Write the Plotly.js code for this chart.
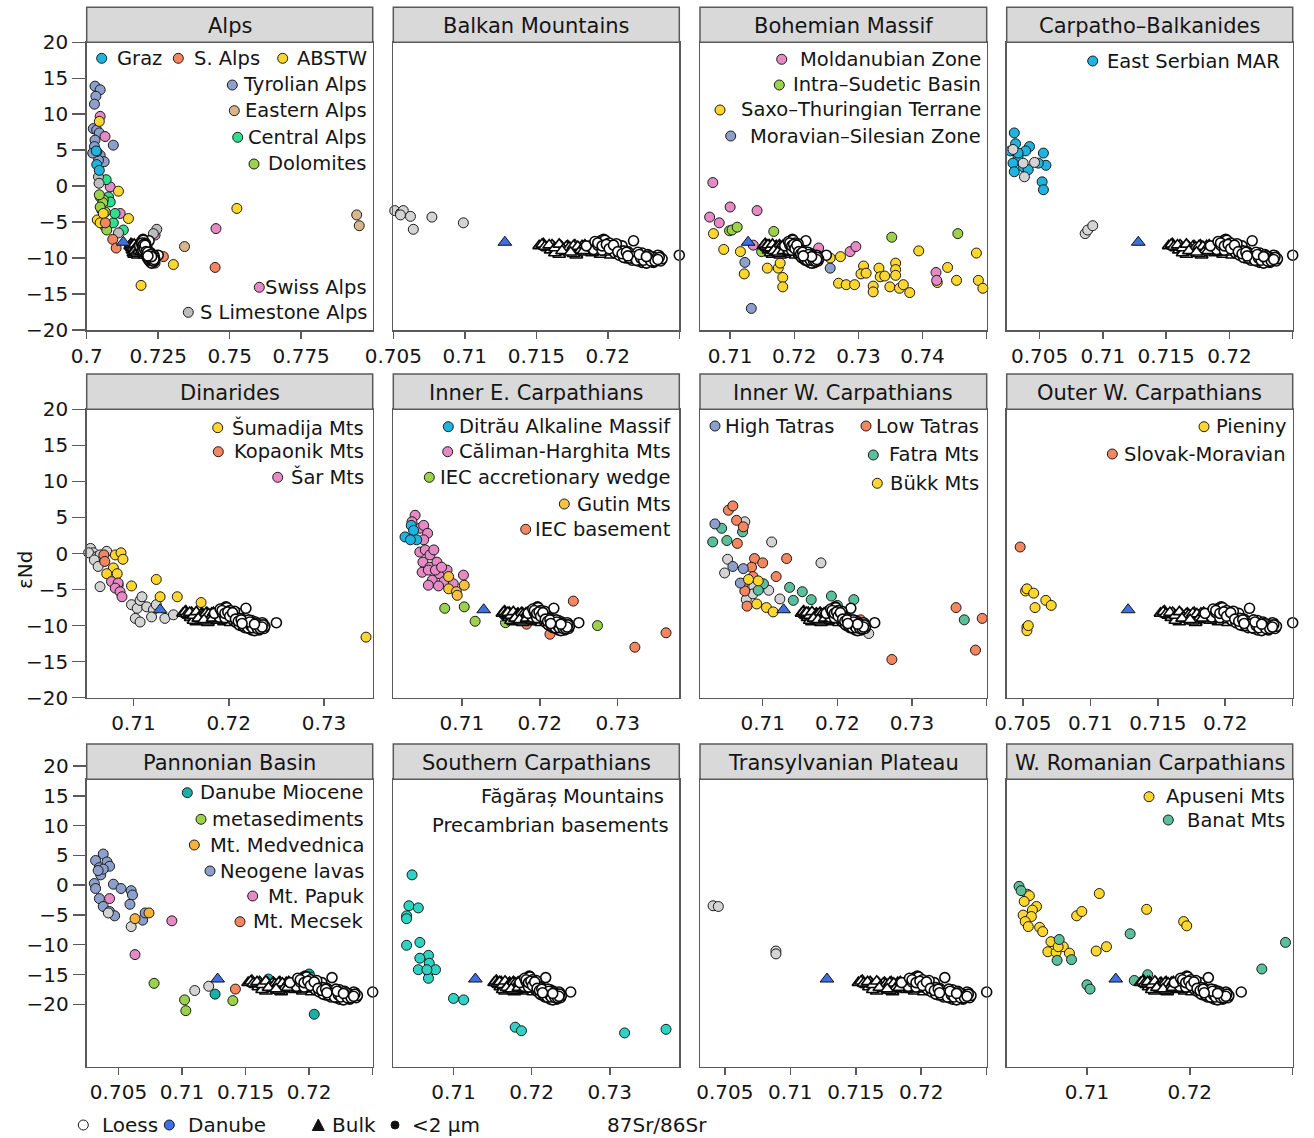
<!DOCTYPE html>
<html><head><meta charset="utf-8">
<script src="https://cdn.plot.ly/plotly-3.0.1.min.js"></script>
<style>html,body{margin:0;padding:0;background:#fff}</style>
</head><body>
<div id="chart" style="width:1314px;height:1138px"></div>
<script>
// ---------------- DATA ----------------
// shared loess data (87Sr/86Sr, eNd)
const loessBulkX = [0.7152,0.7155,0.7158,0.7162,0.7165,0.7168,0.7170,0.7172,0.7175,0.7178,0.7180,0.7183,0.7186,0.7188,0.7190,0.7193,0.7195,0.7198,0.7200,0.7166,0.7178,0.7196,0.7160,0.7185,
  0.7154,0.7157,0.7161,0.7164,0.7167,0.7169,0.7171,0.7174,0.7177,0.7179,0.7182,0.7184,0.7187,0.7189,0.7191,0.7194,0.7197,0.7199,0.7163,0.7171,0.7181,0.7189,0.7202,0.7176,
  0.7156,0.7159,0.7163,0.7166,0.7169,0.7173,0.7176,0.7179,0.7181,0.7184,0.7187,0.7190,0.7192,0.7195,0.7197,0.7168,0.7174,0.7183,0.7191,0.7199];
const loessBulkY = [-8.3,-8.0,-8.6,-8.4,-9.2,-8.5,-8.7,-8.3,-9.0,-9.5,-8.6,-8.4,-8.9,-8.5,-8.7,-8.3,-9.5,-8.6,-8.4,-9.5,-9.6,-9.0,-8.9,-8.8,
  -8.1,-8.5,-8.2,-8.7,-8.3,-8.9,-8.4,-8.6,-8.2,-8.8,-8.3,-8.7,-8.4,-8.9,-8.2,-8.6,-8.4,-8.9,-9.3,-9.1,-9.2,-9.3,-9.6,-9.4,
  -8.4,-8.2,-8.6,-8.1,-8.8,-8.5,-8.3,-8.4,-8.9,-8.2,-8.6,-8.3,-8.8,-8.2,-8.7,-9.0,-9.2,-9.0,-9.1,-9.2];
const loessClayX = [0.7192,0.7195,0.7197,0.7199,0.7200,0.7198,0.7194,0.7190,0.7202,0.7204,0.7207,0.7209,0.7210,0.7212,0.7214,0.7215,0.7217,0.7218,0.7219,0.7220,0.7222,0.7223,0.7225,0.7226,0.7227,0.7228,0.7229,0.7230,0.7231,0.7232,0.7233,0.7234,0.7235,0.7236,0.7237,0.7224,0.7216,0.7250,0.7206,0.7185,
  0.7191,0.7193,0.7196,0.7198,0.7201,0.7203,0.7205,0.7208,0.7211,0.7213,0.7216,0.7219,0.7221,0.7224,0.7226,0.7228,0.7231,0.7233,0.7235,0.7238,0.7221,0.7227,0.7232,0.7229,0.7211,0.7203,0.7196,0.7217,0.7224,0.7236,
  0.7193,0.7196,0.7199,0.7201,0.7204,0.7207,0.7210,0.7213,0.7215,0.7218,0.7220,0.7223,0.7225,0.7228,0.7230,0.7233,0.7235,0.7222,0.7227,0.7214];
const loessClayY = [-8.0,-7.6,-7.4,-7.7,-8.2,-8.6,-8.4,-8.8,-8.5,-9.0,-8.8,-9.3,-8.3,-9.6,-9.1,-9.8,-10.3,-7.6,-9.5,-10.0,-9.7,-10.3,-9.9,-10.5,-9.6,-10.1,-10.4,-9.8,-10.2,-10.6,-9.9,-10.3,-10.0,-9.7,-10.4,-9.3,-9.4,-9.6,-8.0,-8.3,
  -7.7,-8.2,-8.0,-7.5,-7.9,-8.7,-9.3,-9.6,-9.0,-10.0,-9.7,-10.1,-9.2,-10.6,-10.2,-9.5,-10.5,-10.1,-9.6,-10.1,-10.4,-10.7,-9.9,-9.7,-9.9,-8.3,-8.9,-10.0,-10.0,-9.9,
  -7.9,-8.3,-8.1,-8.7,-8.2,-9.1,-9.4,-9.2,-10.0,-9.8,-10.3,-10.0,-10.3,-9.9,-10.4,-10.4,-10.2,-9.5,-9.8,-9.7];
const danubeBulkX = [0.7128];
const danubeBulkY = [-7.8];

// Alps
const grazX = [0.7033,0.7035,0.7044];
const grazY = [4.9,3.0,2.2];
const sAlpsX = [0.7065,0.7091,0.7103,0.7268,0.7449,0.7245];
const sAlpsY = [-5.1,-7.4,-8.6,-9.8,-11.3,-9.6];
const abstwX = [0.7044,0.7111,0.7146,0.7037,0.7047,0.7525,0.7303,0.7190,0.7058];
const abstwY = [9.0,-0.7,-4.5,-4.7,-5.1,-3.1,-10.9,-13.8,-3.8];
const tyrolX = [0.7029,0.7047,0.7032,0.7027,0.7023,0.7035,0.7044,0.7029,0.7093,0.7027,0.7047,0.7061,0.7041,0.7035,0.7021];
const tyrolY = [13.9,13.4,12.5,11.4,8.0,7.8,7.4,6.4,5.7,5.5,4.3,3.4,3.6,4.8,4.6];
const easternAlpsX = [0.7342,0.7944,0.7953];
const easternAlpsY = [-8.4,-4.0,-5.5];
const centralAlpsX = [0.7068,0.7076,0.7082,0.7093,0.7128,0.7052,0.7064,0.7099];
const centralAlpsY = [0.9,-1.5,-2.2,-5.1,-6.1,-3.3,-5.6,-3.8];
const dolomitesX = [0.7047,0.7058,0.7056,0.7065,0.7047,0.7070,0.7044];
const dolomitesY = [-1.5,-1.9,-2.3,-3.6,-2.9,-6.1,-1.2];
const swissAlpsX = [0.7047,0.7064,0.7082,0.7117,0.7452,0.7239,0.7239];
const swissAlpsY = [9.7,6.9,-0.1,-3.8,-5.9,-6.8,-10.7];
const sLimestoneX = [0.7041,0.7043,0.7245,0.7111,0.7233];
const sLimestoneY = [1.3,0.4,-6.0,-6.5,-6.6];

// Balkan Mountains
const balkanGreyX = [0.7051,0.7055,0.7057,0.7062,0.7064,0.7077,0.7099,0.7055];
const balkanGreyY = [-3.4,-3.8,-3.4,-4.2,-6.0,-4.3,-5.1,-4.0];

// Bohemian Massif
const moldanubianX = [0.7073,0.7068,0.7083,0.7100,0.7142,0.7136,0.7238,0.7287,0.7296,0.7421,0.7422];
const moldanubianY = [0.5,-4.3,-5.1,-2.9,-3.4,-8.2,-8.6,-9.1,-8.4,-12.0,-13.1];
const intraSudeticX = [0.7099,0.7103,0.7111,0.7168,0.7149,0.7352,0.7455];
const intraSudeticY = [-6.2,-6.1,-5.7,-6.3,-9.1,-7.1,-6.6];
const saxoThuringianX = [0.7074,0.7090,0.7116,0.7122,0.7158,0.7175,0.7182,0.7182,0.7178,0.7256,0.7272,0.7269,0.7281,0.7294,0.7308,0.7304,0.7312,0.7323,0.7332,0.7334,0.7341,0.7349,0.7358,0.7358,0.7358,0.7364,0.7370,0.7380,0.7323,0.7394,0.7423,0.7439,0.7453,0.7484,0.7487,0.7494,0.7230];
const saxoThuringianY = [-6.6,-8.8,-9.1,-12.2,-11.4,-11.4,-12.7,-14.0,-10.7,-10.0,-9.8,-13.5,-13.7,-13.7,-11.1,-12.2,-12.1,-13.9,-11.4,-12.6,-12.5,-14.0,-10.7,-11.6,-12.4,-14.2,-13.7,-14.8,-14.7,-9.0,-13.4,-11.3,-13.1,-9.3,-13.1,-14.2,-10.7];
const moravianX = [0.7123,0.7133,0.7256];
const moravianY = [-10.6,-17.0,-11.4];

// Carpatho-Balkanides
const eastSerbianX = [0.7030,0.7031,0.7027,0.7033,0.7042,0.7039,0.7029,0.7037,0.7030,0.7053,0.7055,0.7049,0.7052,0.7053,0.7041,0.7033];
const eastSerbianY = [7.4,5.9,4.9,4.1,5.5,4.9,3.2,2.7,2.0,4.6,2.9,3.2,0.6,-0.5,2.3,4.6];
const carpBalkGreyX = [0.7029,0.7037,0.7046,0.7038,0.7086,0.7088,0.7092];
const carpBalkGreyY = [5.1,3.2,3.3,1.3,-6.6,-6.1,-5.5];

// Dinarides
const dinarGreyX = [0.7055,0.7058,0.7053,0.7062,0.7065,0.7059,0.7063,0.7065,0.7072,0.7098,0.7104,0.7107,0.7102,0.7107,0.7114,0.7121,0.7119,0.7124,0.7133,0.7142,0.7109,0.7084];
const dinarGreyY = [0.7,0.1,0.1,-0.4,-0.2,-0.9,-1.8,-4.6,0.3,-7.1,-7.6,-6.5,-9.0,-9.5,-7.4,-7.8,-8.8,-7.1,-9.0,-8.5,-6.0,-4.4];
const kopaonikX = [0.7069,0.7070];
const kopaonikY = [-0.2,-1.1];
const sumadijaX = [0.7081,0.7087,0.7089,0.7079,0.7072,0.7083,0.7098,0.7124,0.7128,0.7146,0.7171,0.7344];
const sumadijaY = [-0.2,0.1,-0.8,-2.0,-2.8,-2.8,-4.5,-3.6,-6.0,-6.0,-6.8,-11.6];
const sarX = [0.7077,0.7084,0.7081,0.7086,0.7088];
const sarY = [-3.9,-4.1,-4.8,-5.3,-6.0];

// Inner E. Carpathians
const ditrauX = [0.7035,0.7027,0.7038,0.7042,0.7034];
const ditrauY = [3.9,2.3,3.2,1.9,1.9];
const calimanX = [0.7040,0.7036,0.7046,0.7051,0.7056,0.7051,0.7046,0.7053,0.7059,0.7064,0.7050,0.7059,0.7068,0.7049,0.7062,0.7057,0.7071,0.7077,0.7070,0.7081,0.7102,0.7089,0.7057,0.7066,0.7074];
const calimanY = [5.3,4.4,3.5,3.9,2.8,1.9,0.2,0.5,-0.2,0.5,-1.2,-1.9,-1.2,-2.6,-3.7,-4.4,-2.8,-3.9,-4.5,-2.3,-3.0,-4.2,-2.3,-2.3,-1.9];
const gutinX = [0.7083,0.7083,0.7093,0.7103,0.7094];
const gutinY = [-3.2,-4.9,-5.3,-4.4,-5.8];
const iecWedgeX = [0.7078,0.7103,0.7117,0.7156,0.7274];
const iecWedgeY = [-7.6,-7.4,-9.4,-9.6,-10.0];
const iecBasementX = [0.7243,0.7213,0.7183,0.7322,0.7362];
const iecBasementY = [-6.6,-11.2,-9.8,-13.0,-11.0];

// Inner W. Carpathians
const lowTatrasX = [0.7054,0.7060,0.7065,0.7074,0.7066,0.7089,0.7100,0.7085,0.7132,0.7118,0.7074,0.7076,0.7079,0.7087,0.7359,0.7394,0.7385,0.7273,0.7231];
const lowTatrasY = [6.0,6.6,4.6,3.7,1.4,-0.7,-1.3,-1.9,-0.7,-3.2,-4.2,-5.2,-7.3,-3.2,-7.5,-9.0,-13.4,-14.7,-9.2];
const fatraX = [0.7045,0.7033,0.7052,0.7073,0.7136,0.7153,0.7165,0.7141,0.7192,0.7222,0.7200,0.7370,0.7101,0.7094];
const fatraY = [3.5,1.6,1.8,3.0,-4.7,-5.3,-6.4,-6.5,-5.9,-6.4,-7.2,-9.2,-4.2,-5.1];
const highTatrasX = [0.7036,0.7060,0.7074,0.7070];
const highTatrasY = [4.1,-1.8,-2.1,-4.1];
const bukkX = [0.7081,0.7094,0.7092,0.7105,0.7114];
const bukkY = [-3.6,-3.8,-7.0,-7.5,-8.1];
const innerWGreyX = [0.7076,0.7112,0.7053,0.7049,0.7088,0.7078,0.7108,0.7123,0.7178,0.7242,0.7087];
const innerWGreyY = [4.4,1.6,-0.8,-2.7,-4.6,-6.4,-5.1,-6.3,-1.3,-11.1,-5.6];

// Outer W. Carpathians
const slovakMoravianX = [0.7048];
const slovakMoravianY = [0.9];
const pieninyX = [0.7052,0.7053,0.7058,0.7059,0.7067,0.7071,0.7053,0.7053,0.7054];
const pieninyY = [-5.2,-4.9,-5.5,-7.5,-6.5,-7.2,-10.2,-10.7,-10.0];

// Pannonian Basin
const neogeneX = [0.7038,0.7032,0.7041,0.7035,0.7043,0.7036,0.7031,0.7032,0.7046,0.7052,0.7060,0.7061,0.7059,0.7035,0.7038,0.7043,0.7047,0.7069,0.7071,0.7038,0.7034];
const neogeneY = [9.6,8.7,8.5,7.7,7.9,6.7,5.5,4.8,5.4,4.8,4.5,3.9,2.6,3.4,2.3,1.6,1.0,0.4,1.4,7.5,7.3];
const pannonGreyX = [0.7042,0.7060,0.7110,0.7121];
const pannonGreyY = [1.4,-0.5,-9.4,-8.8];
const medvednicaX = [0.7063,0.7074];
const medvednicaY = [0.6,1.4];
const papukX = [0.7043,0.7092,0.7063];
const papukY = [3.4,0.3,-4.4];
const metasedX = [0.7078,0.7102,0.7103,0.7140];
const metasedY = [-8.4,-10.7,-12.2,-10.8];
const danubeMioceneX = [0.7126,0.7204,0.7200,0.7168,0.7201];
const danubeMioceneY = [-9.9,-12.7,-7.1,-7.8,-7.5];
const mecsekX = [0.7142];
const mecsekY = [-9.2];

// Southern Carpathians
const fagarasX = [0.7047,0.7043,0.7055,0.7040,0.7040,0.7040,0.7057,0.7068,0.7057,0.7055,0.7069,0.7068,0.7077,0.7068,0.7100,0.7113,0.7179,0.7187,0.7319,0.7372,0.7066];
const fagarasY = [6.7,2.4,2.1,1.0,0.6,-3.1,-2.7,-4.5,-4.9,-6.5,-5.6,-6.8,-6.5,-7.7,-10.5,-10.7,-14.5,-15.0,-15.3,-14.8,-6.5];

// Transylvanian Plateau
const transGreyX = [0.7041,0.7045,0.7089,0.7089];
const transGreyY = [2.4,2.3,-3.9,-4.3];

// W. Romanian Carpathians
const apuseniX = [0.7042,0.7044,0.7039,0.7051,0.7047,0.7038,0.7046,0.7040,0.7043,0.7054,0.7057,0.7065,0.7062,0.7070,0.7077,0.7083,0.7090,0.7095,0.7112,0.7109,0.7119,0.7158,0.7194,0.7197,0.7072];
const apuseniY = [4.0,3.8,3.0,2.3,1.8,1.1,0.9,0.2,-0.5,-0.6,-1.2,-2.6,-4.0,-4.1,-3.3,-4.2,1.0,1.6,4.1,-3.9,-3.3,1.9,0.2,-0.4,-3.3];
const banatX = [0.7034,0.7036,0.7071,0.7085,0.7073,0.7100,0.7103,0.7142,0.7146,0.7159,0.7270,0.7293];
const banatY = [5.1,4.5,-5.2,-5.1,-2.3,-8.6,-9.2,-1.5,-8.0,-7.2,-6.4,-2.7];

// tick values / labels
const yTickVals = [-20,-15,-10,-5,0,5,10,15,20];
const tickA = [0.7,0.725,0.75,0.775];            const tickAText = ['0.7','0.725','0.75','0.775'];
const tickB = [0.705,0.71,0.715,0.72,0.725];     const tickBText = ['0.705','0.71','0.715','0.72',''];
const tickC = [0.71,0.72,0.73,0.74,0.75];        const tickCText = ['0.71','0.72','0.73','0.74',''];
const tickD = [0.71,0.72,0.73];                  const tickDText = ['0.71','0.72','0.73'];
const tickE = [0.71,0.72,0.73,0.74];             const tickEText = ['0.71','0.72','0.73',''];
const tickF = [0.71,0.72,0.73];                  const tickFText = ['0.71','0.72',''];

const panelTitles = ['Alps','Balkan Mountains','Bohemian Massif','Carpatho\u2013Balkanides','Dinarides','Inner E. Carpathians','Inner W. Carpathians','Outer W. Carpathians','Pannonian Basin','Southern Carpathians','Transylvanian Plateau','W. Romanian Carpathians'];

// ---------------- STYLE ----------------
const FONT = '"DejaVu Sans", sans-serif';
const LEGSIZE = 19.5;
const LC = '#5a5a5a';
const TXT = '#151515';
const COL = {
  cyan:'#1EB4E0', salmon:'#F5865F', yellow:'#FDD62E', tyrol:'#8DA0CB', tan:'#D8B68C',
  mint:'#2CE08F', lime:'#9BD14B', pink:'#E58AC4', grey:'#BDBDBD', lgrey:'#D4D4D4',
  teal:'#17B1A7', turq:'#2ED3C3', seafoam:'#5CBF9C', orange:'#F8B13B', gutin:'#F9C23E', blue:'#3E6FE3'
};
const W = 1314, H = 1138;
const colPx = [[86.7,372.7],[393.3,679.3],[700,986.7],[1006.7,1292.7]];
const rowPx = [[42.3,330],[409.3,697.7],[779.3,1066.7]];
const stripPx = [[7.3,42.3],[374,409.3],[744,779.3]];
const px2x = p => p / W;
const py2y = p => 1 - p / H;

const panels = [
  {xr:[0.69999,0.8], tv:tickA, tt:tickAText, series:[
    [tyrolX,tyrolY,COL.tyrol],[swissAlpsX,swissAlpsY,COL.pink],[easternAlpsX,easternAlpsY,COL.tan],
    [centralAlpsX,centralAlpsY,COL.mint],[dolomitesX,dolomitesY,COL.lime],[sLimestoneX,sLimestoneY,COL.grey],
    [abstwX,abstwY,COL.yellow],[sAlpsX,sAlpsY,COL.salmon],[grazX,grazY,COL.cyan]],
   legend:[['Graz',COL.cyan,101.7,115,'left',58.3],['S. Alps',COL.salmon,178.3,191.7,'left',58.3],['ABSTW',COL.yellow,282.7,369.3,'right',58.3],
     ['Tyrolian Alps',COL.tyrol,232.3,369.3,'right',85],['Eastern Alps',COL.tan,234.3,369.3,'right',110.7],
     ['Central Alps',COL.mint,237.7,369.3,'right',137.3],['Dolomites',COL.lime,254,369.3,'right',164],
     ['Swiss Alps',COL.pink,259.3,369.3,'right',287.3],['S Limestone Alps',COL.grey,188.3,369.3,'right',312.3]]},
  {xr:[0.705,0.725001], tv:tickB, tt:tickBText, series:[[balkanGreyX,balkanGreyY,COL.lgrey]], legend:[]},
  {xr:[0.7053,0.750001], tv:tickC, tt:tickCText, series:[
    [saxoThuringianX,saxoThuringianY,COL.yellow],[moldanubianX,moldanubianY,COL.pink],
    [intraSudeticX,intraSudeticY,COL.lime],[moravianX,moravianY,COL.tyrol]],
   legend:[['Moldanubian Zone',COL.pink,781.7,982.7,'right',59.3],['Intra\u2013Sudetic Basin',COL.lime,779.3,982.7,'right',85],
     ['Saxo\u2013Thuringian Terrane',COL.yellow,720,982.7,'right',110],['Moravian\u2013Silesian Zone',COL.tyrol,730.7,982.7,'right',136]]},
  {xr:[0.7024,0.725001], tv:tickB, tt:tickBText, series:[[eastSerbianX,eastSerbianY,COL.cyan],[carpBalkGreyX,carpBalkGreyY,COL.lgrey]],
   legend:[['East Serbian MAR',COL.cyan,1092.7,1282.3,'right',61]]},
  {xr:[0.7051,0.7351], tv:tickD, tt:tickDText, series:[
    [dinarGreyX,dinarGreyY,COL.lgrey],[sumadijaX,sumadijaY,COL.yellow],[kopaonikX,kopaonikY,COL.salmon],[sarX,sarY,COL.pink]],
   legend:[['\u0160umadija Mts',COL.yellow,217.7,365.7,'right',427.7],['Kopaonik Mts',COL.salmon,218.3,365.7,'right',451.7],
     ['\u0160ar Mts',COL.pink,277.7,365.7,'right',477.3]]},
  {xr:[0.7012,0.7379], tv:tickD, tt:tickDText, series:[
    [calimanX,calimanY,COL.pink],[ditrauX,ditrauY,COL.cyan],[gutinX,gutinY,COL.gutin],
    [iecWedgeX,iecWedgeY,COL.lime],[iecBasementX,iecBasementY,COL.salmon]],
   legend:[['Ditr\u0103u Alkaline Massif',COL.cyan,448.3,672.7,'right',426.7],['C\u0103liman-Harghita Mts',COL.pink,447.7,672.7,'right',451.7],
     ['IEC accretionary wedge',COL.lime,429.3,672.7,'right',477.3],['Gutin Mts',COL.gutin,564.3,672.7,'right',504],
     ['IEC basement',COL.salmon,525.7,672.7,'right',529.3]]},
  {xr:[0.7016,0.740001], tv:tickE, tt:tickEText, series:[
    [innerWGreyX,innerWGreyY,COL.lgrey],[fatraX,fatraY,COL.seafoam],[lowTatrasX,lowTatrasY,COL.salmon],
    [highTatrasX,highTatrasY,COL.tyrol],[bukkX,bukkY,COL.yellow]],
   legend:[['High Tatras',COL.tyrol,715,722.7,'left',426],['Low Tatras',COL.salmon,866,981,'right',426],
     ['Fatra Mts',COL.seafoam,873.3,981,'right',455],['B\u00fckk Mts',COL.yellow,877.3,981,'right',483.3]]},
  {xr:[0.7038,0.725001], tv:tickB, tt:tickBText, series:[[slovakMoravianX,slovakMoravianY,COL.salmon],[pieninyX,pieninyY,COL.yellow]],
   legend:[['Pieniny',COL.yellow,1204,1288.3,'right',426.7],['Slovak-Moravian',COL.salmon,1112.3,1288.3,'right',454]]},
  {xr:[0.7025,0.725001], tv:tickB, tt:tickBText, series:[
    [neogeneX,neogeneY,COL.tyrol],[pannonGreyX,pannonGreyY,COL.lgrey],[medvednicaX,medvednicaY,COL.orange],
    [papukX,papukY,COL.pink],[metasedX,metasedY,COL.lime],[danubeMioceneX,danubeMioceneY,COL.teal],[mecsekX,mecsekY,COL.salmon]],
   legend:[['Danube Miocene',COL.teal,187.3,366,'right',792.7],['metasediments',COL.lime,201,366,'right',819.3],
     ['Mt. Medvednica',COL.orange,194.3,366,'right',845],['Neogene lavas',COL.tyrol,210,366,'right',871],
     ['Mt. Papuk',COL.pink,252.7,366,'right',896],['Mt. Mecsek',COL.salmon,240,366,'right',921.7]]},
  {xr:[0.7023,0.7389], tv:tickD, tt:tickDText, series:[[fagarasX,fagarasY,COL.turq]],
   legend:[['F\u0103g\u0103ra\u0219 Mountains',null,0,666,'right',796.7],['Precambrian basements',null,0,670.7,'right',825]]},
  {xr:[0.7031,0.725001], tv:tickB, tt:tickBText, series:[[transGreyX,transGreyY,COL.lgrey]], legend:[]},
  {xr:[0.7022,0.730001], tv:tickF, tt:tickFText, series:[[apuseniX,apuseniY,COL.yellow],[banatX,banatY,COL.seafoam]],
   legend:[['Apuseni Mts',COL.yellow,1149,1286.7,'right',796.7],['Banat Mts',COL.seafoam,1168.3,1286.7,'right',820]]}
];

const traces = [];
const layout = {
  width: W, height: H, margin:{l:0,r:0,t:0,b:0}, showlegend:false, hovermode:false,
  paper_bgcolor:'#fff', plot_bgcolor:'rgba(0,0,0,0)', font:{family:FONT, size:20, color:TXT},
  shapes:[], annotations:[]
};
const circ = (cx, cy, r, fill, lw) => ({type:'circle', xref:'paper', yref:'paper', layer:'above',
  x0:px2x(cx-r), x1:px2x(cx+r), y0:py2y(cy+r), y1:py2y(cy-r), fillcolor:fill, line:{color:'#1a1a1a', width:lw}});

panels.forEach((p, i) => {
  const r = Math.floor(i/4), c = i % 4;
  const s = i === 0 ? '' : String(i+1);
  const showY = (c === 0 && r < 2);
  layout['xaxis'+s] = {domain:[px2x(colPx[c][0]), px2x(colPx[c][1])], range:p.xr, anchor:'y'+s,
    showline:true, mirror:true, linecolor:LC, linewidth:1.5, ticks:'outside', ticklen:7, tickwidth:1.5, tickcolor:LC,
    tickmode:'array', tickvals:p.tv, ticktext:p.tt, tickfont:{family:FONT,size:20,color:TXT},
    showgrid:false, zeroline:false, fixedrange:true};
  layout['yaxis'+s] = {domain:[py2y(rowPx[r][1]), py2y(rowPx[r][0])], range:[-20,20], anchor:'x'+s,
    showline:true, mirror:true, linecolor:LC, linewidth:1.5, ticks: showY ? 'outside' : '', ticklen:13, tickwidth:1.5, tickcolor:LC,
    showticklabels:showY, tickmode:'array', tickvals:yTickVals, tickfont:{family:FONT,size:20,color:TXT},
    showgrid:false, zeroline:false, fixedrange:true};
  const xa = 'x'+s, ya = 'y'+s;
  p.series.forEach(([xs, ys, col]) => {
    traces.push({type:'scatter', mode:'markers', x:xs, y:ys, xaxis:xa, yaxis:ya, cliponaxis:false,
      marker:{size:10, color:col, line:{color:'#1a1a1a', width:1}}});
  });
  traces.push({type:'scatter', mode:'markers', x:loessBulkX, y:loessBulkY, xaxis:xa, yaxis:ya, cliponaxis:false,
    marker:{symbol:'triangle-up', size:11, color:'#ffffff', line:{color:'#0a0a0a', width:1.6}}});
  traces.push({type:'scatter', mode:'markers', x:loessClayX, y:loessClayY, xaxis:xa, yaxis:ya, cliponaxis:false,
    marker:{symbol:'circle', size:10, color:'#ffffff', line:{color:'#0a0a0a', width:1.6}}});
  traces.push({type:'scatter', mode:'markers', x:danubeBulkX, y:danubeBulkY, xaxis:xa, yaxis:ya, cliponaxis:false,
    marker:{symbol:'triangle-up', size:12, color:COL.blue, line:{color:'#111', width:1}}});
  layout.shapes.push({type:'rect', xref:'paper', yref:'paper', layer:'above',
    x0:px2x(colPx[c][0]), x1:px2x(colPx[c][1]), y0:py2y(stripPx[r][1]), y1:py2y(stripPx[r][0]),
    fillcolor:'#D9D9D9', line:{color:LC, width:1.5}});
  layout.annotations.push({xref:'paper', yref:'paper', x:px2x((colPx[c][0]+colPx[c][1])/2), y:py2y((stripPx[r][0]+stripPx[r][1])/2 + 1),
    text:panelTitles[i], showarrow:false, xanchor:'center', yanchor:'middle', font:{family:FONT,size:21,color:TXT}});
  p.legend.forEach(([t, col, mx, tx, anc, y]) => {
    if (col) layout.shapes.push(circ(mx, y, 5, col, 1));
    layout.annotations.push({xref:'paper', yref:'paper', x:px2x(tx), y:py2y(y), text:t, showarrow:false,
      xanchor:anc, yanchor:'middle', font:{family:FONT,size:LEGSIZE,color:TXT}});
  });
});

// row-3 y tick labels (as printed in the reference figure)
layout.xaxis13 = {domain:[px2x(colPx[0][0]), px2x(colPx[0][1])], range:[0,1], anchor:'y13', visible:false, fixedrange:true};
layout.yaxis13 = {domain:[py2y(1066.7), py2y(766)], range:[-30.47,20], anchor:'x13', showline:false, ticks:'outside',
  ticklen:13, tickwidth:1.5, tickcolor:LC, tickmode:'array', tickvals:yTickVals, tickfont:{family:FONT,size:20,color:TXT},
  showgrid:false, zeroline:false, fixedrange:true};
traces.push({type:'scatter', mode:'markers', x:[], y:[], xaxis:'x13', yaxis:'y13'});

layout.annotations.push({xref:'paper', yref:'paper', x:px2x(25), y:py2y(570), text:'\u03b5Nd', textangle:-90, showarrow:false,
  xanchor:'center', yanchor:'middle', font:{family:FONT,size:20,color:TXT}});
layout.annotations.push({xref:'paper', yref:'paper', x:px2x(657), y:py2y(1125), text:'87Sr/86Sr', showarrow:false,
  xanchor:'center', yanchor:'middle', font:{family:FONT,size:20,color:TXT}});

layout.shapes.push(circ(83.3, 1125, 5, '#ffffff', 1));
layout.shapes.push(circ(169.3, 1125, 5, COL.blue, 1));
layout.shapes.push({type:'path', xref:'paper', yref:'paper', layer:'above', fillcolor:'#111', line:{color:'#111', width:1},
  path:'M '+px2x(312.3)+','+py2y(1130.5)+' L '+px2x(324.3)+','+py2y(1130.5)+' L '+px2x(318.3)+','+py2y(1119)+' Z'});
layout.shapes.push(circ(395, 1125, 4, '#111', 1));
[['Loess',100],['Danube',186],['Bulk',330],['<2 \u00b5m',410]].forEach(([t, x]) => {
  layout.annotations.push({xref:'paper', yref:'paper', x:px2x(x), y:py2y(1125), text:t.replace('<','&lt;'), showarrow:false,
    xanchor:'left', yanchor:'middle', font:{family:FONT,size:20,color:TXT}});
});

Plotly.newPlot('chart', traces, layout, {staticPlot:true, displayModeBar:false});
</script>
</body></html>
